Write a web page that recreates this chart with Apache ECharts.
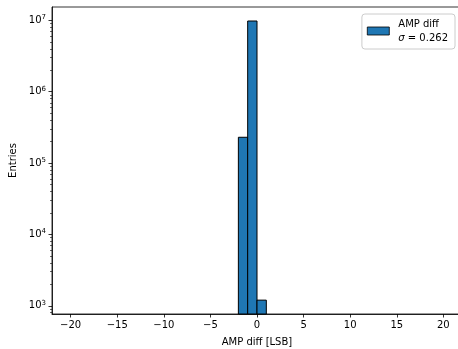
<!DOCTYPE html>
<html>
<head>
<meta charset="utf-8">
<script src="https://cdn.jsdelivr.net/npm/echarts@6/dist/echarts.min.js"></script>
<style>
  html, body { margin: 0; padding: 0; background: #fff; }
  #chart { width: 458px; height: 349px; }
</style>
</head>
<body>
<div id="chart"></div>
<script>
// Histogram of AMP differences (1 LSB bins, range -20..20); only non-empty bins listed
const binLeft = [-2, -1, 0];
const binWidth = 1;
const counts = [230000, 9800000, 1200];

const xTicks = [-20, -15, -10, -5, 0, 5, 10, 15, 20];
const yTicks = [1e3, 1e4, 1e5, 1e6, 1e7];
const yMinorTicks = [];
[1e2, 1e3, 1e4, 1e5, 1e6, 1e7].forEach(function (d) {
  for (let k = 2; k <= 9; k++) yMinorTicks.push(k * d);
});

const xRange = [-22, 22];
const yRange = [767, 1.54e7];

const seriesName = 'AMP diff';
const sigmaText = '0.262';
const font = 'DejaVu Sans';

const barData = binLeft.map(function (x, i) { return [x, x + binWidth, counts[i]]; });

const chart = echarts.init(document.getElementById('chart'), null, { renderer: 'canvas' });

const minus = function (v) { return String(v).replace('-', '\u2212'); };

chart.setOption({
  animation: false,
  backgroundColor: '#ffffff',
  grid: {
    left: 52, top: 7, bottom: 35, width: 410,
    outerBoundsMode: 'none', containLabel: false,
    show: true, borderColor: '#000', borderWidth: 0.8, backgroundColor: 'transparent'
  },
  legend: {
    top: 14, right: 3,
    orient: 'vertical',
    data: [{ name: seriesName, icon: 'rect', itemStyle: { borderWidth: 0.8, borderColor: '#000' } }],
    itemWidth: 22, itemHeight: 8, itemGap: 0,
    padding: [3, 7, 4, 5],
    borderColor: '#cccccc', borderWidth: 1, borderRadius: 3,
    backgroundColor: 'rgba(255,255,255,0.8)',
    formatter: function (name) { return name + '\n{i|\u03c3} = ' + sigmaText; },
    textStyle: {
      fontFamily: font, fontSize: 10, color: '#000', lineHeight: 14, padding: [0, 0, 0, 4],
      rich: { i: { fontFamily: font, fontSize: 10, fontStyle: 'italic', color: '#000', lineHeight: 14 } }
    }
  },
  xAxis: {
    type: 'value', min: xRange[0], max: xRange[1],
    name: 'AMP diff [LSB]', nameLocation: 'middle', nameGap: 23,
    nameTextStyle: { fontFamily: font, fontSize: 10, color: '#000' },
    axisLine: { onZero: false, lineStyle: { color: '#000', width: 0.8 } },
    axisTick: { show: true, length: 3.5, lineStyle: { color: '#000', width: 0.8 }, customValues: xTicks },
    axisLabel: { fontFamily: font, fontSize: 10, color: '#000', margin: 6, customValues: xTicks, formatter: minus },
    splitLine: { show: false }
  },
  yAxis: [{
    type: 'log', min: yRange[0], max: yRange[1],
    name: 'Entries', nameLocation: 'middle', nameGap: 33, nameRotate: 90,
    nameTextStyle: { fontFamily: font, fontSize: 10, color: '#000' },
    axisLine: { show: true, onZero: false, lineStyle: { color: '#000', width: 0.8 } },
    axisTick: { show: true, length: 3.5, lineStyle: { color: '#000', width: 0.8 }, customValues: yTicks },
    axisLabel: {
      margin: 6, customValues: yTicks,
      formatter: function (v) { return '{b|10}{s|' + Math.round(Math.log10(v)) + '}'; },
      rich: {
        b: { fontFamily: font, fontSize: 10, color: '#000' },
        s: { fontFamily: font, fontSize: 7, color: '#000', verticalAlign: 'bottom', padding: [0, 0, 6, 0] }
      }
    },
    splitLine: { show: false }
  }, {
    // minor log ticks at 2..9 x 10^n
    type: 'log', min: yRange[0], max: yRange[1], position: 'left',
    axisLine: { show: false, onZero: false },
    axisTick: { show: true, length: 2, lineStyle: { color: '#000', width: 0.6 }, customValues: yMinorTicks },
    axisLabel: { show: false },
    splitLine: { show: false }
  }],
  series: [{
    name: seriesName,
    type: 'custom',
    data: barData,
    encode: { x: [0, 1], y: 2 },
    itemStyle: { color: '#1f77b4', borderColor: '#000', borderWidth: 0.8 },
    renderItem: function (params, api) {
      const p0 = api.coord([api.value(0), api.value(2)]);
      const p1 = api.coord([api.value(1), yRange[0]]);
      return {
        type: 'rect',
        shape: { x: p0[0], y: p0[1], width: p1[0] - p0[0], height: p1[1] - p0[1] },
        style: { fill: '#1f77b4', stroke: '#000', lineWidth: 1 }
      };
    }
  }]
});
</script>
</body>
</html>
